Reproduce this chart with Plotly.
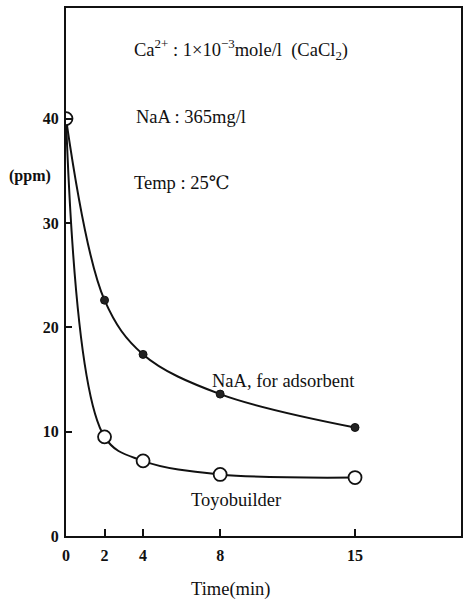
import plotly.graph_objects as go

time_min = [0, 2, 4, 8, 15]
naa_adsorbent = [40, 22.6, 17.4, 13.6, 10.4]
toyobuilder = [40, 9.5, 7.2, 5.9, 5.6]
x_ticks = [0, 2, 4, 8, 15]
y_ticks = [0, 10, 20, 30, 40]

SERIF = "Liberation Serif, DejaVu Serif, serif"
W, H = 464, 603
ML, MR, MT, MB = 66, 1, 8, 67
PW, PH = W - ML - MR, H - MT - MB

fig = go.Figure()
fig.add_trace(go.Scatter(
    x=time_min, y=naa_adsorbent, mode="lines+markers",
    line=dict(shape="spline", smoothing=1.0, color="#111", width=2),
    marker=dict(symbol="circle", size=8, color="#222", line=dict(color="#111", width=1)),
    name="NaA, for adsorbent", showlegend=False))
fig.add_trace(go.Scatter(
    x=time_min, y=toyobuilder, mode="lines+markers",
    line=dict(shape="spline", smoothing=1.0, color="#111", width=2),
    marker=dict(symbol="circle", size=13, color="white", line=dict(color="#111", width=1.8)),
    name="Toyobuilder", showlegend=False))

tickfont = dict(family=SERIF, size=16, color="#111", weight="bold")
fig.update_layout(
    width=W, height=H,
    margin=dict(l=ML, r=MR, t=MT, b=MB),
    paper_bgcolor="white", plot_bgcolor="white",
    font=dict(family=SERIF, color="#111"),
    xaxis=dict(range=[0, 20.5], tickvals=x_ticks,
               ticks="inside", ticklen=7, tickwidth=1.5, tickcolor="#111",
               showline=True, linecolor="#111", linewidth=2, mirror=True,
               showgrid=False, zeroline=False, ticklabelstandoff=4,
               tickfont=tickfont),
    yaxis=dict(range=[0, 50.6], tickvals=y_ticks,
               ticks="inside", ticklen=6, tickwidth=1.5, tickcolor="#111",
               showline=True, linecolor="#111", linewidth=2, mirror=True,
               showgrid=False, zeroline=False, ticklabelstandoff=2,
               tickfont=tickfont),
)

def ann(text, x, y, size=18.5, xanchor="left"):
    fig.add_annotation(text=text, x=x, y=y, xref="x", yref="y", showarrow=False,
                       xanchor=xanchor, yanchor="middle",
                       font=dict(family=SERIF, size=size, color="#111"))

def ann_px(text, px, py, size=18.5, weight="normal"):
    fig.add_annotation(text=text, x=(px - ML) / PW, y=(H - MB - py) / PH,
                       xref="paper", yref="paper", showarrow=False,
                       xanchor="center", yanchor="middle",
                       font=dict(family=SERIF, size=size, color="#111", weight=weight))

ann("Ca<sup>2+</sup> : 1×10<sup>−3</sup>mole/l  (CaCl<sub>2</sub>)", 3.45, 46.6)
ann("NaA : 365mg/l", 3.55, 40.2)
ann("Temp : 25℃", 3.45, 33.8)
ann("NaA, for adsorbent", 11.3, 14.9, xanchor="center")
ann("Toyobuilder", 8.83, 3.45, xanchor="center")
ann_px("(ppm)", 30, 176, size=16, weight="bold")
ann_px("Time(min)", 232, 589)

fig.write_html("out.html")
